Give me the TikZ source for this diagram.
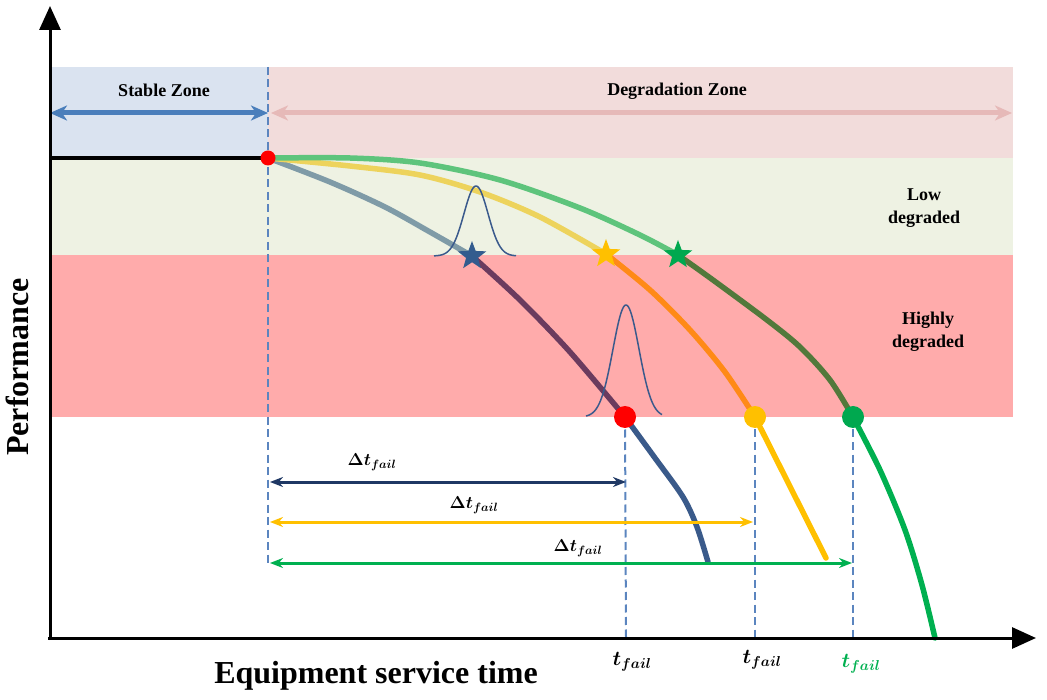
\documentclass[tikz,border=0pt]{standalone}
\usepackage{fontspec}
\setmainfont{Liberation Serif}
\usetikzlibrary{arrows.meta,shapes.geometric}

\definecolor{stableblue}{HTML}{DAE3F0}
\definecolor{degpink}{HTML}{F2DCDB}
\definecolor{lowgreen}{HTML}{EEF2E3}
\definecolor{highred}{HTML}{FFABAB}
\definecolor{arrblue}{HTML}{4A7EBB}
\definecolor{arrpink}{HTML}{E6B9B8}
\definecolor{dashblue}{HTML}{5B85BF}
\definecolor{cgrey}{HTML}{7F9BA7}
\definecolor{cpurple}{HTML}{6B3B5E}
\definecolor{cnavy}{HTML}{3A5A8A}
\definecolor{cltyellow}{HTML}{EDD35C}
\definecolor{corange}{HTML}{FF8A17}
\definecolor{cyellow}{HTML}{FFC000}
\definecolor{cltgreen}{HTML}{5EC47C}
\definecolor{colive}{HTML}{52793B}
\definecolor{cgreen}{HTML}{00B050}
\definecolor{gaussblue}{HTML}{3A5A8C}
\definecolor{darknavy}{HTML}{1F3864}
\definecolor{starblue}{HTML}{335C8E}
\definecolor{stargreen}{HTML}{00A84F}

\tikzset{
  zonelabel/.style={font=\fontsize{18}{23}\selectfont\bfseries, align=center},
  curve/.style={line width=5.5pt, line cap=round},
  failline/.style={dashblue, line width=2pt, dash pattern=on 8pt off 4.5pt},
  zonearrow/.style={line width=5pt, {Stealth[length=17pt,width=15pt,inset=5pt]}-{Stealth[length=17pt,width=15pt,inset=5pt]}},
  dtarrow/.style={line width=3pt, {Stealth[length=13pt,width=10pt]}-{Stealth[length=13pt,width=10pt]}},
  markstar/.style={star, star points=5, star point ratio=2.4, minimum size=30pt, inner sep=0pt},
  faildot/.style={circle, minimum size=22pt, inner sep=0pt},
  mathlbl/.style={font=\fontsize{18}{20}\selectfont\boldmath},
  tlbl/.style={font=\fontsize{20}{22}\selectfont\boldmath, anchor=base},
  axislbl/.style={font=\fontsize{32}{34}\selectfont\bfseries},
}

\begin{document}
\begin{tikzpicture}[x=1pt,y=-1pt]
  \useasboundingbox (0,0) rectangle (1047,700);

  % Zones
  \fill[stableblue] (50,67) rectangle (268,158);
  \fill[degpink] (268,67) rectangle (1013,158);
  \fill[lowgreen] (50,158) rectangle (1013,255);
  \fill[highred] (50,255) rectangle (1013,417);

  \node[zonelabel] (stable) at (164,90) {Stable Zone};
  \node[zonelabel] (degr) at (677,91) {Degradation Zone};
  \node[zonelabel] (low) at (924,208) {Low\\degraded};
  \node[zonelabel] (high) at (928,332) {Highly\\degraded};

  % Zone arrows
  \coordinate (zl) at (50,113);
  \coordinate (zm) at (268,113);
  \coordinate (zn) at (271,113);
  \coordinate (zr) at (1012,113);
  \draw[zonearrow, arrblue] (zl) -- (zm);
  \draw[zonearrow, arrpink] (zn) -- (zr);

  % Start of degradation
  \coordinate (O) at (268,158);
  \draw[line width=3.5pt] (50,158) -- (O);
  \draw[failline] (268,67) -- (268,565);

  % Failure points
  \coordinate (fr) at (625,417);
  \coordinate (fy) at (755,417);
  \coordinate (fg) at (853,417);
  \coordinate (tr) at (626,638);
  \coordinate (ty) at (755,638);
  \coordinate (tg) at (853,638);
  \draw[failline] (fr) -- (tr);
  \draw[failline] (fy) -- (ty);
  \draw[failline] (fg) -- (tg);

  % Blue curve
  \draw[curve, cgrey] plot[smooth] coordinates {(268,158) (330,182) (385,207) (430,232) (472,256)};
  \draw[curve, cpurple] plot[smooth] coordinates {(472,256) (520,300) (570,352) (625,417)};
  \draw[curve, cnavy] plot[smooth] coordinates {(625,417) (655,458) (683,497) (697,527) (708,562)};

  % Yellow curve
  \draw[curve, cltyellow] plot[smooth] coordinates {(268,158) (350,166) (420,175) (480,192) (540,217) (606,254)};
  \draw[curve, corange] plot[smooth] coordinates {(606,254) (650,290) (690,330) (725,372) (755,417)};
  \draw[curve, cyellow] (fy) -- (826,558);

  % Green curve
  \draw[curve, cltgreen] plot[smooth] coordinates {(268,158) (350,158) (420,163) (500,180) (580,208) (640,235) (678,255)};
  \draw[curve, colive] plot[smooth] coordinates {(678,255) (713,280) (767,320) (800,347) (830,380) (853,417)};
  \draw[curve, cgreen] plot[smooth] coordinates {(853,417) (880,470) (905,530) (922,585) (935,638)};

  % Distributions
  \draw[gaussblue, line width=1.5pt] plot[domain=-42:40, samples=80, smooth] ({476+\x}, {256-70*exp(-0.5*(\x/12)^2)});
  \draw[gaussblue, line width=1.5pt] plot[domain=-40:36, samples=80, smooth] ({626+\x}, {417-112*exp(-0.5*(\x/13)^2)});

  % Markers
  \node[markstar, fill=starblue] (sb) at (472,256) {};
  \node[markstar, fill=cyellow] (sy) at (606,254) {};
  \node[markstar, fill=stargreen] (sg) at (678,255) {};
  \node[faildot, fill=red] (dr) at (fr) {};
  \node[faildot, fill=cyellow] (dy) at (fy) {};
  \node[faildot, fill=stargreen] (dg) at (fg) {};
  \node[circle, fill=red, minimum size=15pt, inner sep=0pt] (start) at (O) {};

  % Delta t arrows
  \coordinate (a1) at (270,482);
  \coordinate (b1) at (626,482);
  \coordinate (a2) at (270,522);
  \coordinate (b2) at (753,522);
  \coordinate (a3) at (270,563);
  \coordinate (b3) at (852,563);
  \draw[dtarrow, darknavy] (a1) -- (b1);
  \draw[dtarrow, cyellow] (a2) -- (b2);
  \draw[dtarrow, cgreen] (a3) -- (b3);
  \node[mathlbl] (dt1) at (372,462) {$\Delta t_{fail}$};
  \node[mathlbl] (dt2) at (474,505) {$\Delta t_{fail}$};
  \node[mathlbl] (dt3) at (578,548) {$\Delta t_{fail}$};

  % Axes
  \draw[line width=3pt, -{Triangle[length=24pt,width=21pt]}] (50,640) -- (50,6);
  \draw[line width=3pt, -{Triangle[length=24pt,width=21pt]}] (48,638) -- (1036,638);
  \node[axislbl] (xlbl) at (376,676) {Equipment service time};
  \node[axislbl, rotate=90] (ylbl) at (17,367) {Performance};

  \node[tlbl] (t1) at (632,665) {$t_{fail}$};
  \node[tlbl] (t2) at (762,663) {$t_{fail}$};
  \node[tlbl, text=cgreen] (t3) at (861,667) {$t_{fail}$};
\end{tikzpicture}
\end{document}
